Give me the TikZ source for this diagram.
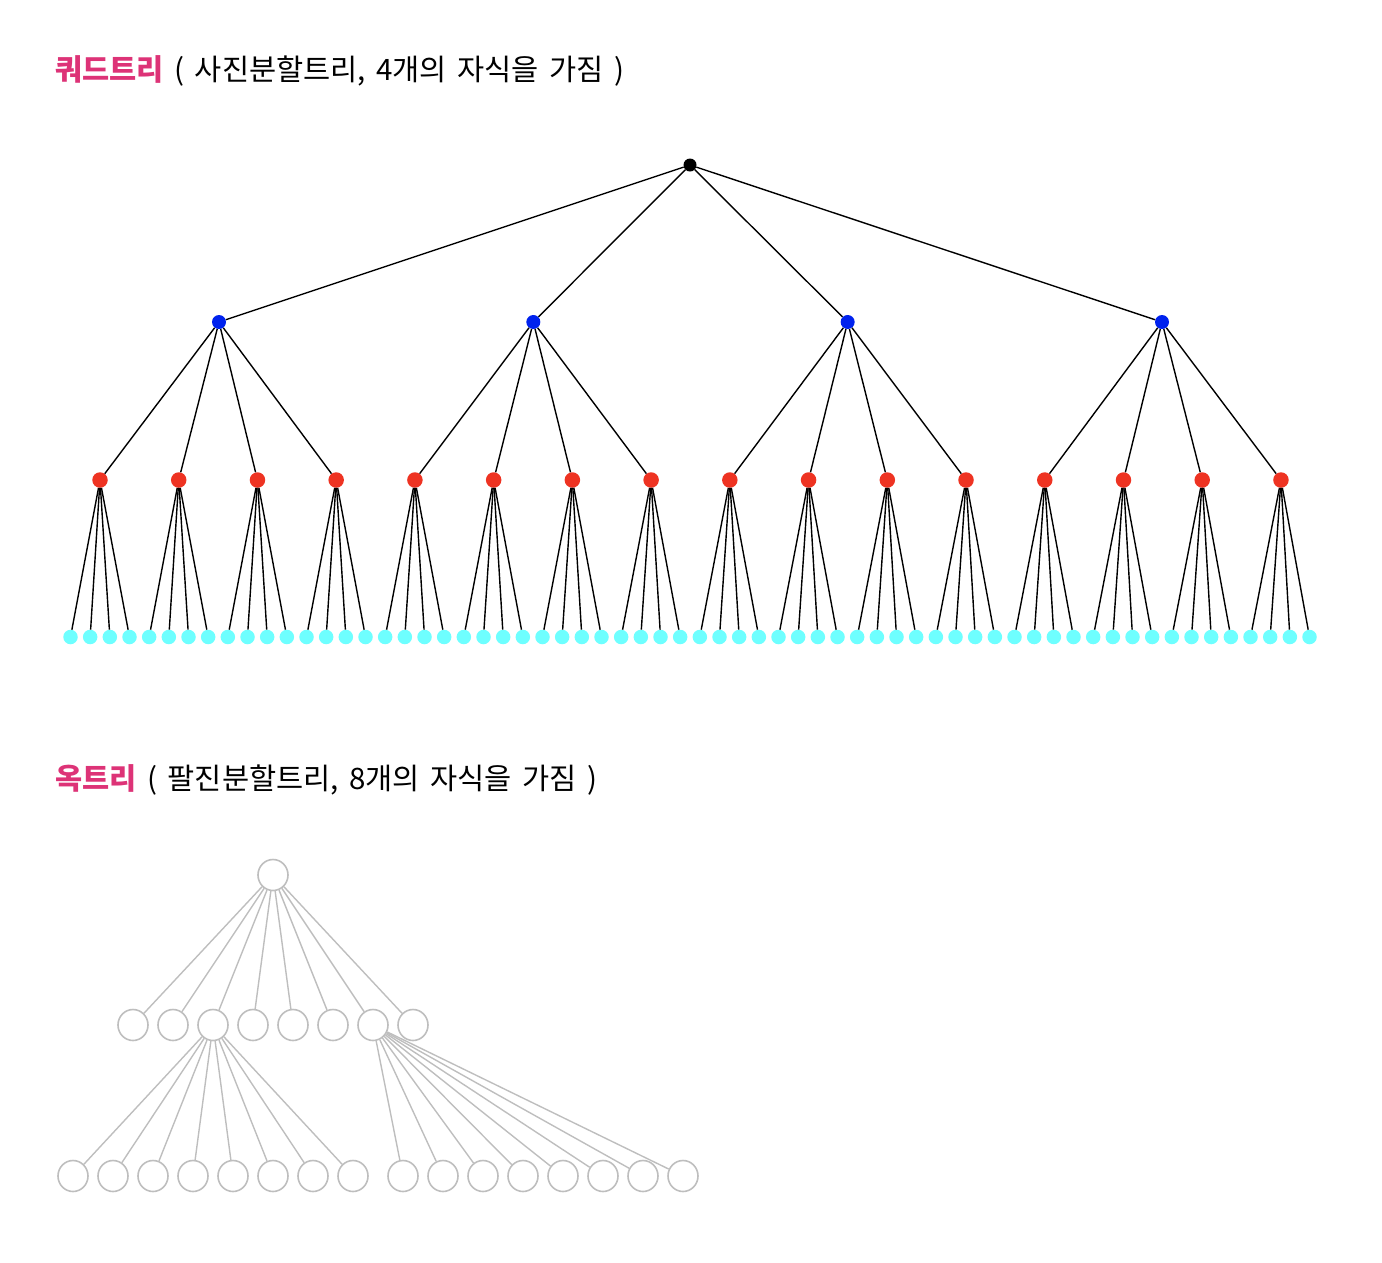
\documentclass[tikz,border=0pt]{standalone}
\usepackage{fontspec}
\setmainfont[WordSpace=1.6]{Noto Sans CJK KR}
\usepackage{xcolor}
\definecolor{accent}{RGB}{221,51,119}
\definecolor{qblue}{RGB}{0,34,238}
\definecolor{qred}{RGB}{238,51,34}
\definecolor{qcyan}{RGB}{110,255,255}
\definecolor{ogray}{RGB}{190,190,190}
\usetikzlibrary{positioning}
\usetikzlibrary{shapes.geometric}

\begin{document}
\begin{tikzpicture}[x=1pt,y=-1pt,
  every node/.style={font=\fontsize{29.5}{34}\selectfont},
  dot/.style={circle,inner sep=0pt,minimum size=14pt},
  rootdot/.style={dot,fill=black,minimum size=13pt},
  bluedot/.style={dot,fill=qblue},
  reddot/.style={dot,fill=qred,minimum size=15.5pt},
  cyandot/.style={dot,fill=qcyan,minimum size=14.5pt},
  qedge/.style={draw=black,line width=1.4pt},
  ocirc/.style={ellipse,draw=ogray,line width=1.6pt,inner sep=0pt,minimum width=30pt,minimum height=31pt},
  oedge/.style={draw=ogray,line width=1.4pt}]
\useasboundingbox (0,0) rectangle (1382,1262);

% quadtree
\node[anchor=base west,inner sep=0pt] (qtitle) at (55,80) {\textcolor{accent}{\bfseries 쿼드트리} ( 사진분할트리, 4개의 자식을 가짐 )};
\node[rootdot] (q0) at (690,165) {};
\foreach \i in {1,...,4} \node[bluedot] (qa\i) at ({219+(\i-1)*314.33},322) {};
\foreach \i in {1,...,16} \node[reddot] (qb\i) at ({100+(\i-1)*78.73},480) {};
\foreach \i in {1,...,64} \node[cyandot] (qc\i) at ({70.5+(\i-1)*19.667},637) {};
\foreach \i in {1,...,4} \draw[qedge] (q0) -- (qa\i);
\foreach \i in {1,...,16} {
  \pgfmathtruncatemacro\p{(\i-1)/4+1}
  \draw[qedge] (qa\p) -- (qb\i);
}
\foreach \i in {1,...,64} {
  \pgfmathtruncatemacro\p{(\i-1)/4+1}
  \draw[qedge] (qb\p) -- (qc\i);
}

% octree
\node[anchor=base west,inner sep=0pt] (otitle) at (55,789) {\textcolor{accent}{\bfseries 옥트리} ( 팔진분할트리, 8개의 자식을 가짐 )};
\node[ocirc] (o0) at (273,875) {};
\foreach \i in {1,...,8} {
  \node[ocirc] (oa\i) at ({133+(\i-1)*40},1025) {};
  \draw[oedge] (o0) -- (oa\i);
}
\foreach \i in {1,...,8} {
  \node[ocirc] (ob\i) at ({73+(\i-1)*40},1176) {};
  \draw[oedge] (oa3) -- (ob\i);
}
\foreach \i in {1,...,8} {
  \node[ocirc] (oc\i) at ({403+(\i-1)*40},1176) {};
  \draw[oedge] (oa7) -- (oc\i);
}
\end{tikzpicture}
\end{document}
